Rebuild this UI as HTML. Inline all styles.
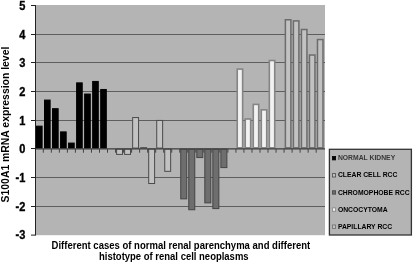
<!DOCTYPE html>
<html><head><meta charset="utf-8"><style>
html,body{margin:0;padding:0;background:#fff;}
body{width:413px;height:263px;overflow:hidden;}
svg{display:block;}
text{font-family:"Liberation Sans",Arial,sans-serif;font-weight:bold;fill:#000;}
.tk{font-size:12px;stroke:#000;stroke-width:0.35px;}
.yt{font-size:10px;}
.xt{font-size:10px;}
.lg{font-size:6.8px;}
.lgn{font-size:6.8px;fill:#383838;}
</style></head><body>
<svg width="413" height="263" viewBox="0 0 413 263">
<rect x="36.0" y="5" width="289.00" height="230.20" fill="#b4b4b4"/>
<line x1="36.0" x2="325" y1="206.50" y2="206.50" stroke="#5e5e5e" stroke-width="1"/>
<line x1="36.0" x2="325" y1="177.50" y2="177.50" stroke="#5e5e5e" stroke-width="1"/>
<line x1="36.0" x2="325" y1="120.50" y2="120.50" stroke="#5e5e5e" stroke-width="1"/>
<line x1="36.0" x2="325" y1="91.50" y2="91.50" stroke="#5e5e5e" stroke-width="1"/>
<line x1="36.0" x2="325" y1="62.50" y2="62.50" stroke="#5e5e5e" stroke-width="1"/>
<line x1="36.0" x2="325" y1="34.50" y2="34.50" stroke="#5e5e5e" stroke-width="1"/>
<rect x="36.50" y="126.16" width="5.60" height="21.94" fill="#000" stroke="#000" stroke-width="1.0"/>
<rect x="44.52" y="100.07" width="5.60" height="48.03" fill="#000" stroke="#000" stroke-width="1.0"/>
<rect x="52.55" y="108.68" width="5.60" height="39.42" fill="#000" stroke="#000" stroke-width="1.0"/>
<rect x="60.58" y="131.90" width="5.60" height="16.20" fill="#000" stroke="#000" stroke-width="1.0"/>
<rect x="68.60" y="143.08" width="5.60" height="5.02" fill="#000" stroke="#000" stroke-width="1.0"/>
<rect x="76.62" y="82.87" width="5.60" height="65.23" fill="#000" stroke="#000" stroke-width="1.0"/>
<rect x="84.65" y="94.05" width="5.60" height="54.05" fill="#000" stroke="#000" stroke-width="1.0"/>
<rect x="92.67" y="81.44" width="5.60" height="66.66" fill="#000" stroke="#000" stroke-width="1.0"/>
<rect x="100.70" y="89.47" width="5.60" height="58.63" fill="#000" stroke="#000" stroke-width="1.0"/>
<rect x="116.60" y="149.10" width="5.90" height="5.31" fill="#c2c2c2" stroke="#4a4a4a" stroke-width="1.0"/>
<rect x="124.62" y="149.10" width="5.90" height="5.31" fill="#c2c2c2" stroke="#4a4a4a" stroke-width="1.0"/>
<rect x="132.65" y="117.56" width="5.90" height="30.54" fill="#c2c2c2" stroke="#4a4a4a" stroke-width="1.0"/>
<rect x="140.68" y="147.67" width="5.90" height="0.43" fill="#c2c2c2" stroke="#4a4a4a" stroke-width="1.0"/>
<rect x="148.70" y="149.10" width="5.90" height="34.41" fill="#c2c2c2" stroke="#4a4a4a" stroke-width="1.0"/>
<rect x="156.73" y="120.43" width="5.90" height="27.67" fill="#c2c2c2" stroke="#4a4a4a" stroke-width="1.0"/>
<rect x="164.75" y="149.10" width="5.90" height="22.22" fill="#c2c2c2" stroke="#4a4a4a" stroke-width="1.0"/>
<rect x="180.75" y="149.10" width="6.00" height="49.75" fill="#6e6e6e" stroke="#444" stroke-width="1.0"/>
<rect x="188.77" y="149.10" width="6.00" height="60.64" fill="#6e6e6e" stroke="#444" stroke-width="1.0"/>
<rect x="196.80" y="149.10" width="6.00" height="8.46" fill="#6e6e6e" stroke="#444" stroke-width="1.0"/>
<rect x="204.82" y="149.10" width="6.00" height="53.76" fill="#6e6e6e" stroke="#444" stroke-width="1.0"/>
<rect x="212.85" y="149.10" width="6.00" height="59.49" fill="#6e6e6e" stroke="#444" stroke-width="1.0"/>
<rect x="220.88" y="149.10" width="6.00" height="18.50" fill="#6e6e6e" stroke="#444" stroke-width="1.0"/>
<rect x="237.23" y="69.12" width="5.40" height="78.68" fill="#f2f2f2" stroke="#858585" stroke-width="1.6"/>
<rect x="245.25" y="119.01" width="5.40" height="28.79" fill="#f2f2f2" stroke="#858585" stroke-width="1.6"/>
<rect x="253.28" y="104.39" width="5.40" height="43.41" fill="#f2f2f2" stroke="#858585" stroke-width="1.6"/>
<rect x="261.30" y="109.84" width="5.40" height="37.96" fill="#f2f2f2" stroke="#858585" stroke-width="1.6"/>
<rect x="269.33" y="60.52" width="5.40" height="87.28" fill="#f2f2f2" stroke="#858585" stroke-width="1.6"/>
<rect x="285.38" y="19.76" width="5.50" height="128.09" fill="#c2c2c2" stroke="#6c6c6c" stroke-width="1.5"/>
<rect x="293.40" y="20.91" width="5.50" height="126.94" fill="#c2c2c2" stroke="#6c6c6c" stroke-width="1.5"/>
<rect x="301.43" y="29.51" width="5.50" height="118.34" fill="#c2c2c2" stroke="#6c6c6c" stroke-width="1.5"/>
<rect x="309.45" y="55.03" width="5.50" height="92.82" fill="#c2c2c2" stroke="#6c6c6c" stroke-width="1.5"/>
<rect x="317.48" y="39.54" width="5.50" height="108.31" fill="#c2c2c2" stroke="#6c6c6c" stroke-width="1.5"/>
<line x1="36.0" x2="325" y1="148.90" y2="148.90" stroke="#3c3c3c" stroke-width="1.3"/>
<line x1="43.32" x2="43.32" y1="148.90" y2="152.70" stroke="#444" stroke-width="1"/>
<line x1="51.35" x2="51.35" y1="148.90" y2="152.70" stroke="#444" stroke-width="1"/>
<line x1="59.38" x2="59.38" y1="148.90" y2="152.70" stroke="#444" stroke-width="1"/>
<line x1="67.40" x2="67.40" y1="148.90" y2="152.70" stroke="#444" stroke-width="1"/>
<line x1="75.42" x2="75.42" y1="148.90" y2="152.70" stroke="#444" stroke-width="1"/>
<line x1="83.45" x2="83.45" y1="148.90" y2="152.70" stroke="#444" stroke-width="1"/>
<line x1="91.47" x2="91.47" y1="148.90" y2="152.70" stroke="#444" stroke-width="1"/>
<line x1="99.50" x2="99.50" y1="148.90" y2="152.70" stroke="#444" stroke-width="1"/>
<line x1="107.53" x2="107.53" y1="148.90" y2="152.70" stroke="#444" stroke-width="1"/>
<line x1="115.55" x2="115.55" y1="148.90" y2="152.70" stroke="#444" stroke-width="1"/>
<line x1="123.58" x2="123.58" y1="148.90" y2="152.70" stroke="#444" stroke-width="1"/>
<line x1="131.60" x2="131.60" y1="148.90" y2="152.70" stroke="#444" stroke-width="1"/>
<line x1="139.62" x2="139.62" y1="148.90" y2="152.70" stroke="#444" stroke-width="1"/>
<line x1="147.65" x2="147.65" y1="148.90" y2="152.70" stroke="#444" stroke-width="1"/>
<line x1="155.68" x2="155.68" y1="148.90" y2="152.70" stroke="#444" stroke-width="1"/>
<line x1="163.70" x2="163.70" y1="148.90" y2="152.70" stroke="#444" stroke-width="1"/>
<line x1="171.73" x2="171.73" y1="148.90" y2="152.70" stroke="#444" stroke-width="1"/>
<line x1="179.75" x2="179.75" y1="148.90" y2="152.70" stroke="#444" stroke-width="1"/>
<line x1="187.77" x2="187.77" y1="148.90" y2="152.70" stroke="#444" stroke-width="1"/>
<line x1="195.80" x2="195.80" y1="148.90" y2="152.70" stroke="#444" stroke-width="1"/>
<line x1="203.82" x2="203.82" y1="148.90" y2="152.70" stroke="#444" stroke-width="1"/>
<line x1="211.85" x2="211.85" y1="148.90" y2="152.70" stroke="#444" stroke-width="1"/>
<line x1="219.88" x2="219.88" y1="148.90" y2="152.70" stroke="#444" stroke-width="1"/>
<line x1="227.90" x2="227.90" y1="148.90" y2="152.70" stroke="#444" stroke-width="1"/>
<line x1="235.93" x2="235.93" y1="148.90" y2="152.70" stroke="#444" stroke-width="1"/>
<line x1="243.95" x2="243.95" y1="148.90" y2="152.70" stroke="#444" stroke-width="1"/>
<line x1="251.98" x2="251.98" y1="148.90" y2="152.70" stroke="#444" stroke-width="1"/>
<line x1="260.00" x2="260.00" y1="148.90" y2="152.70" stroke="#444" stroke-width="1"/>
<line x1="268.03" x2="268.03" y1="148.90" y2="152.70" stroke="#444" stroke-width="1"/>
<line x1="276.05" x2="276.05" y1="148.90" y2="152.70" stroke="#444" stroke-width="1"/>
<line x1="284.07" x2="284.07" y1="148.90" y2="152.70" stroke="#444" stroke-width="1"/>
<line x1="292.10" x2="292.10" y1="148.90" y2="152.70" stroke="#444" stroke-width="1"/>
<line x1="300.12" x2="300.12" y1="148.90" y2="152.70" stroke="#444" stroke-width="1"/>
<line x1="308.15" x2="308.15" y1="148.90" y2="152.70" stroke="#444" stroke-width="1"/>
<line x1="316.18" x2="316.18" y1="148.90" y2="152.70" stroke="#444" stroke-width="1"/>
<line x1="35.5" x2="35.5" y1="5" y2="235.2" stroke="#222" stroke-width="1"/>
<line x1="31" x2="36" y1="235.10" y2="235.10" stroke="#222" stroke-width="1"/>
<text transform="translate(25.4,239.40) scale(0.92,1)" text-anchor="end" class="tk">-3</text>
<line x1="31" x2="36" y1="206.50" y2="206.50" stroke="#222" stroke-width="1"/>
<text transform="translate(25.4,210.80) scale(0.92,1)" text-anchor="end" class="tk">-2</text>
<line x1="31" x2="36" y1="177.50" y2="177.50" stroke="#222" stroke-width="1"/>
<text transform="translate(25.4,181.80) scale(0.92,1)" text-anchor="end" class="tk">-1</text>
<line x1="31" x2="36" y1="148.50" y2="148.50" stroke="#222" stroke-width="1"/>
<text transform="translate(25.4,152.80) scale(0.92,1)" text-anchor="end" class="tk">0</text>
<line x1="31" x2="36" y1="120.50" y2="120.50" stroke="#222" stroke-width="1"/>
<text transform="translate(25.4,124.80) scale(0.92,1)" text-anchor="end" class="tk">1</text>
<line x1="31" x2="36" y1="91.50" y2="91.50" stroke="#222" stroke-width="1"/>
<text transform="translate(25.4,95.80) scale(0.92,1)" text-anchor="end" class="tk">2</text>
<line x1="31" x2="36" y1="62.50" y2="62.50" stroke="#222" stroke-width="1"/>
<text transform="translate(25.4,66.80) scale(0.92,1)" text-anchor="end" class="tk">3</text>
<line x1="31" x2="36" y1="34.50" y2="34.50" stroke="#222" stroke-width="1"/>
<text transform="translate(25.4,38.80) scale(0.92,1)" text-anchor="end" class="tk">4</text>
<line x1="31" x2="36" y1="5.50" y2="5.50" stroke="#222" stroke-width="1"/>
<text transform="translate(25.4,9.80) scale(0.92,1)" text-anchor="end" class="tk">5</text>
<text transform="translate(9.4,202.4) rotate(-90)" class="yt" textLength="155.7" lengthAdjust="spacingAndGlyphs">S100A1 mRNA expression level</text>
<text x="51.6" y="248.9" class="xt" textLength="258.6" lengthAdjust="spacingAndGlyphs">Different cases of normal renal parenchyma and different</text>
<text x="99.0" y="259.9" class="xt" textLength="149.6" lengthAdjust="spacingAndGlyphs">histotype of renal cell neoplasms</text>
<rect x="329.4" y="149.3" width="82" height="85.7" fill="#b4b4b4" stroke="#333" stroke-width="1.3"/>
<rect x="332.4" y="156.50" width="3.2" height="3.4" fill="#000" stroke="#000" stroke-width="0.8"/>
<text x="337.9" y="160.30" class="lgn">NORMAL KIDNEY</text>
<rect x="332.4" y="173.62" width="3.2" height="3.4" fill="#c2c2c2" stroke="#4a4a4a" stroke-width="0.8"/>
<text x="337.9" y="177.42" class="lg">CLEAR CELL RCC</text>
<rect x="332.4" y="190.74" width="3.2" height="3.4" fill="#6e6e6e" stroke="#444" stroke-width="0.8"/>
<text x="337.9" y="194.54" class="lg">CHROMOPHOBE RCC</text>
<rect x="332.4" y="207.86" width="3.2" height="3.4" fill="#f2f2f2" stroke="#858585" stroke-width="0.8"/>
<text x="337.9" y="211.66" class="lg">ONCOCYTOMA</text>
<rect x="332.4" y="224.98" width="3.2" height="3.4" fill="#c2c2c2" stroke="#6c6c6c" stroke-width="0.8"/>
<text x="337.9" y="228.78" class="lg">PAPILLARY RCC</text>
</svg>
</body></html>
